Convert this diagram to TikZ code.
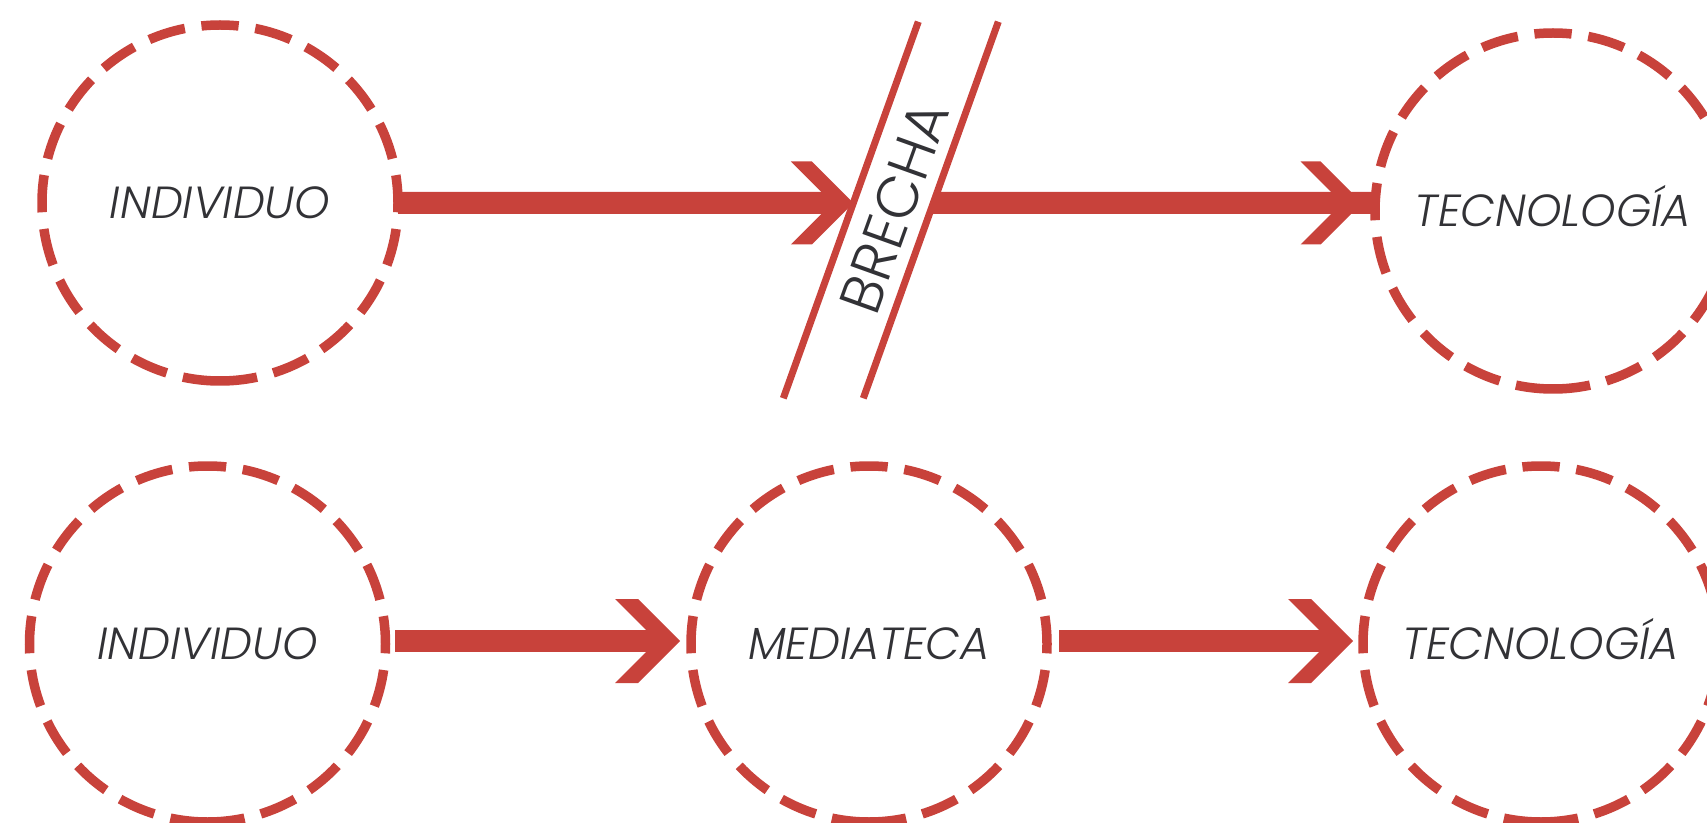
\documentclass[tikz,border=0pt]{standalone}
\usepackage{fontspec}
\newfontfamily\labfont{Poppins}[UprightFont={* Light}, ItalicFont={* Light Italic}]
\usetikzlibrary{calc,intersections}
\definecolor{brick}{RGB}{200,66,59}
\definecolor{ink}{RGB}{50,50,54}
\tikzset{
  hub/.style={circle, minimum size=178pt, inner sep=0pt, outer sep=0pt,
    font=\labfont\itshape\fontsize{22.5}{25}\selectfont, text=ink,
    text height=15.5pt, text depth=0pt},
  ring/.style={draw=brick, line width=4.75pt, dash pattern=on 18.64pt off 8.39pt},
  shaft/.style={draw=brick, line width=11pt},
  bandline/.style={draw=brick, line width=3.5pt},
  bandtext/.style={font=\labfont\fontsize{29}{31}\selectfont, text=ink, inner sep=0pt},
}
\newcommand\chevhead[3]{% tip, arm width, half height
  \fill[brick] ($(#1)+(-#3-#2,-#3)$) -- ($(#1)+(-#3,-#3)$) -- (#1)
    -- ($(#1)+(-#3,#3)$) -- ($(#1)+(-#3-#2,#3)$) -- ($(#1)+(-#2,0)$) -- cycle;}
\begin{document}
\begin{tikzpicture}[x=0.5pt,y=-0.5pt]
\useasboundingbox (0,0) rectangle (1707,823);
% nodes
\node[hub] (TL) at (220,203) {INDIVIDUO};
\node[hub] (TR) at (1553,211) {TECNOLOGÍA};
\node[hub] (BL) at (207.5,644) {INDIVIDUO};
\node[hub] (BM) at (869,644) {MEDIATECA};
\node[hub] (BR) at (1541,644) {TECNOLOGÍA};
\foreach \n in {TL,TR,BL,BM,BR}
  \draw[ring] (\n.south) arc[start angle=270, end angle=630, radius=89pt];
% band geometry
\coordinate (bL1) at (783.3,398.3);
\coordinate (bL2) at (918.3,21.7);
\coordinate (bR1) at (863.3,398.3);
\coordinate (bR2) at (998.3,21.7);
\path[name path=lineL] (bL1) -- (bL2);
\path[name path=axisT] (TL.east) -- ++(1200,0);
\path[name intersections={of=lineL and axisT, by=t1}];
\coordinate (t2) at ($(TR.west |- TL.east)+(-13,0)$);
\coordinate (e2) at ($(TR.west |- TL.east)+(-4,0)$);
% top arrows
\draw[shaft] (TL.east) -- ($(t1)+(-12,0)$);
\chevhead{t1}{21}{41.5}
\draw[shaft] (t1) -- (e2);
\chevhead{t2}{20}{41.5}
% band over arrows
\fill[white] (bL1) -- (bL2) -- (bR2) -- (bR1) -- cycle;
\draw[bandline] (bL1) -- (bL2);
\draw[bandline] (bR1) -- (bR2);
\node[bandtext, rotate=70.25] (brecha) at (894,207) {BRECHA};
% bottom arrows
\coordinate (t3) at ($(BM.west)+(-11,-3)$);
\coordinate (t4) at ($(BR.west)+(-10,-3)$);
\draw[shaft] ($(BL.east)+(9.5,-3)$) -- ($(t3)+(-12,0)$);
\chevhead{t3}{23}{42}
\draw[shaft] ($(BM.east)+(12,-3)$) -- ($(t4)+(-12,0)$);
\chevhead{t4}{23}{42}
\end{tikzpicture}
\end{document}
